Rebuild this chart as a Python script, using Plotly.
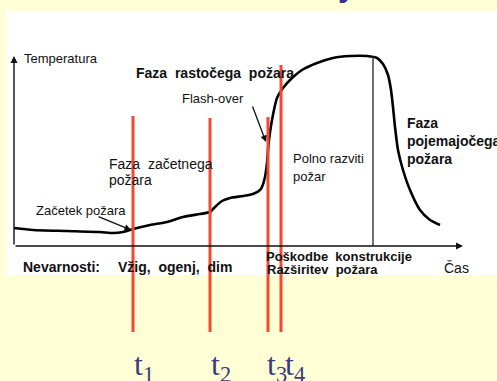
import plotly.graph_objects as go

# fire development curve, time vs temperature (origin at the axes corner, 1 unit ~ 1 px)
time = [0, 19, 53, 86, 99, 109, 119, 136, 153, 169, 186, 196, 201, 208, 216, 229, 239,
        246, 248, 251, 253, 254, 255, 258, 263, 269, 278, 288, 303, 319, 336, 353,
        363, 369, 374, 377, 379, 381, 384, 389, 396, 406, 416, 426]
temp = [18, 16, 15, 14, 13, 14, 17, 21, 24, 29, 32, 34, 39, 45, 48, 50, 52,
        56, 59, 69, 83, 96, 106, 126, 148, 158, 168, 176, 183, 188, 190, 190,
        188, 182, 171, 156, 139, 119, 96, 76, 56, 36, 26, 21]

# end of fully developed fire (thin vertical line)
peak_time = [359, 359]
peak_temp = [0, 190]

# marked moments t1..t4
t_names = ["t<sub>1</sub>", "t<sub>2</sub>", "t<sub>3</sub>", "t<sub>4</sub>"]
t_times = [119, 196, 254, 267]
t_tops = [130, 128, 129, 181]
t_bottom = -86
t_label_shift = [-1, -1, -3, 2]

BG = "#FFFFD5"
RED = "#F5492F"
BLUE = "#3B3B7E"
SANS = "Liberation Sans, Arial, sans-serif"


def X(px):
    return px - 14


def Y(py):
    return 246 - py


fig = go.Figure()

fig.add_trace(go.Scatter(x=time, y=temp, mode="lines",
    line=dict(color="black", width=2.6, shape="spline", smoothing=0.6),
    hoverinfo="skip"))
fig.add_trace(go.Scatter(x=peak_time, y=peak_temp, mode="lines",
    line=dict(color="#222", width=1.3), hoverinfo="skip"))

for t, top in zip(t_times, t_tops):
    fig.add_trace(go.Scatter(x=[t, t], y=[t_bottom, top], mode="lines",
        line=dict(color=RED, width=3), hoverinfo="skip"))

# white panel behind the diagram
fig.add_shape(type="rect", x0=X(6), x1=X(497), y0=Y(275), y1=Y(11),
              fillcolor="white", line_width=0, layer="below")

anns = []
# axes with arrow heads
anns.append(dict(x=0, y=Y(56), ax=0, ay=0, axref="x", ayref="y", text="",
                 showarrow=True, arrowhead=2, arrowsize=1, arrowwidth=1.4, arrowcolor="#111"))
anns.append(dict(x=X(463), y=0, ax=0, ay=0, axref="x", ayref="y", text="",
                 showarrow=True, arrowhead=2, arrowsize=1, arrowwidth=1.4, arrowcolor="#111"))
# pointer arrows
anns.append(dict(x=X(131), y=Y(230), ax=X(97), ay=Y(216), axref="x", ayref="y", text="",
                 showarrow=True, arrowhead=2, arrowsize=1, arrowwidth=1.3, arrowcolor="#111"))
anns.append(dict(x=X(266), y=Y(142), ax=X(252), ay=Y(105), axref="x", ayref="y", text="",
                 showarrow=True, arrowhead=2, arrowsize=1, arrowwidth=1.3, arrowcolor="#111"))


def label(text, px, py, size=13, bold=False, color="#111"):
    if bold:
        text = "<b>" + text + "</b>"
    anns.append(dict(x=X(px), y=Y(py), text=text, showarrow=False, xanchor="left",
                     yanchor="middle", align="left",
                     font=dict(size=size, family=SANS, color=color)))


S2 = "\u00a0\u00a0"
label("Temperatura", 22, 58, 13)
label("Faza" + S2 + "rastočega" + S2 + "požara", 134, 73, 14, True)
label("Flash-over", 180, 98, 13)
label("Faza" + S2 + "začetnega", 107, 164, 14)
label("požara", 107, 180, 14)
label("Začetek požara", 34, 210, 13)
label("Polno razviti", 291, 158, 13)
label("požar", 291, 176, 13)
label("Faza<br>pojemajočega<br>požara", 405, 141, 14, True)
label("Nevarnosti:", 21, 267, 14, True)
label("Vžig," + S2 + "ogenj," + S2 + "dim", 116, 267, 14, True)
label("Poškodbe" + S2 + "konstrukcije", 264, 256, 13, True)
label("Razširitev" + S2 + "požara", 265, 269, 13, True)
label("Čas", 442, 268, 14)

# t1..t4 labels under the red lines
for name, t, dx in zip(t_names, t_times, t_label_shift):
    anns.append(dict(x=t + dx, y=Y(366), text=name, showarrow=False, xanchor="left",
                     yanchor="middle",
                     font=dict(size=32, family="Liberation Serif, Times New Roman, serif",
                               color=BLUE)))

# cut-off slide title glyph at the very top
anns.append(dict(x=X(347), y=Y(6), text="<b>y</b>", showarrow=False, xanchor="center",
                 yanchor="bottom", yshift=1,
                 font=dict(size=32, family=SANS, color="#333399")))

fig.update_layout(
    width=497, height=381, margin=dict(l=0, r=0, t=0, b=0),
    paper_bgcolor=BG, plot_bgcolor=BG, showlegend=False,
    xaxis=dict(range=[X(0), X(497)], visible=False, fixedrange=True),
    yaxis=dict(range=[Y(381), Y(0)], visible=False, fixedrange=True),
    annotations=anns,
)

fig.write_html("out.html", config={"displayModeBar": False},
               post_script="document.body.style.margin='0';")
